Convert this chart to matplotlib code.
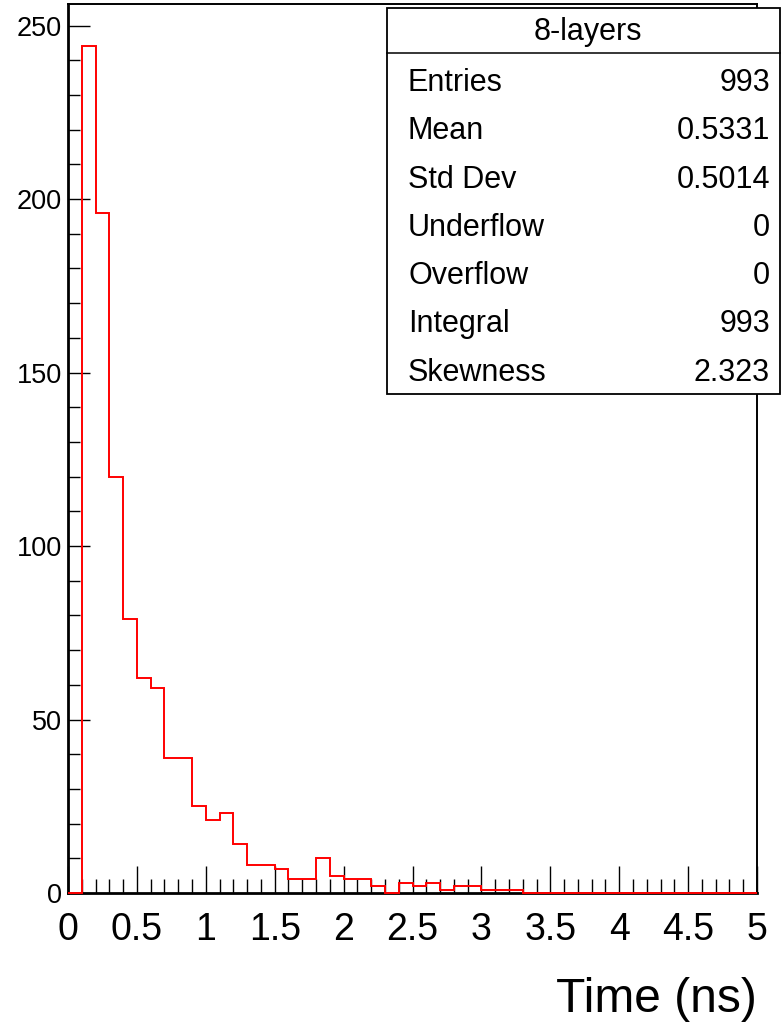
import numpy as np
import matplotlib
matplotlib.use("Agg")
import matplotlib.pyplot as plt
from matplotlib.patches import Rectangle
from matplotlib.lines import Line2D
from matplotlib.ticker import MultipleLocator, FuncFormatter

plt.rcParams['font.family'] = ['Liberation Sans', 'DejaVu Sans']

# Histogram: 50 bins of 0.1 ns between 0 and 5 ns
bin_edges = np.linspace(0.0, 5.0, 51)
counts = [0, 244, 196, 120, 79, 62, 59, 39, 39, 25,
          21, 23, 14, 8, 8, 7, 4, 4, 10, 5,
          4, 4, 2, 0, 3, 2, 3, 1, 2, 2,
          1, 1, 1, 0, 0, 0, 0, 0, 0, 0,
          0, 0, 0, 0, 0, 0, 0, 0, 0, 0]

hist_title = "8-layers"
stat_names = ["Entries", "Mean", "Std Dev", "Underflow", "Overflow", "Integral", "Skewness"]
stat_values = ["993", "0.5331", "0.5014", "0", "0", "993", "2.323"]

x_label = "Time (ns)"

W, H = 781, 1027
fig = plt.figure(figsize=(W / 100, H / 100), dpi=100)


def fx(px):
    return px / W


def fy(py):
    return 1 - py / H


ax_left, ax_right, ax_top, ax_bottom = 68, 757, 4, 893
ax = fig.add_axes([fx(ax_left), fy(ax_bottom), fx(ax_right - ax_left), (ax_bottom - ax_top) / H])

ax.stairs(counts, bin_edges, color="#ff0000", linewidth=1.4, zorder=3, clip_on=False)

ax.set_xlim(0, 5)
ax.set_ylim(0, max(counts) * 1.05)

ax.xaxis.set_major_locator(MultipleLocator(0.5))
ax.xaxis.set_minor_locator(MultipleLocator(0.1))
ax.yaxis.set_major_locator(MultipleLocator(50))
ax.yaxis.set_minor_locator(MultipleLocator(10))
ax.xaxis.set_major_formatter(FuncFormatter(lambda v, p: f"{v:g}"))

ax.tick_params(axis='x', which='major', direction='in', length=19.5, width=1.0,
               labelsize=27, pad=14, top=False)
ax.tick_params(axis='x', which='minor', direction='in', length=10, width=1.0, top=False)
ax.tick_params(axis='y', which='major', direction='in', length=15.8, width=1.0,
               labelsize=19.5, pad=4.5, right=False)
ax.tick_params(axis='y', which='minor', direction='in', length=8.6, width=1.0, right=False)

for side in ['top', 'right']:
    ax.spines[side].set_linewidth(1.4)
for side in ['left', 'bottom']:
    ax.spines[side].set_linewidth(2.0)

ax.set_xlabel(x_label, fontsize=34.5, ha='right', va='baseline')
ax.xaxis.set_label_coords(1.0, -(1012 - ax_bottom) / (ax_bottom - ax_top))

# Statistics box
box_l, box_r, box_t, box_b, head_b = 387, 780, 8, 394, 53
fig.patches.append(Rectangle((fx(box_l), fy(box_b)), fx(box_r - box_l), (box_b - box_t) / H,
                             transform=fig.transFigure, facecolor='white', edgecolor='black',
                             linewidth=1.3, zorder=5))
fig.lines.append(Line2D([fx(box_l), fx(box_r)], [fy(head_b), fy(head_b)],
                        transform=fig.transFigure, color='black', linewidth=1.1, zorder=6))

stat_size = 22
fig.text(fx((box_l + box_r) / 2 + 4), fy(40), hist_title, ha='center', va='baseline',
         fontsize=stat_size, zorder=7)
for i, (name, val) in enumerate(zip(stat_names, stat_values)):
    base = 91 + 48.3 * i
    fig.text(fx(408), fy(base), name, ha='left', va='baseline', fontsize=stat_size, zorder=7)
    fig.text(fx(770), fy(base), val, ha='right', va='baseline', fontsize=stat_size, zorder=7)

fig.savefig("out.png", dpi=100)
